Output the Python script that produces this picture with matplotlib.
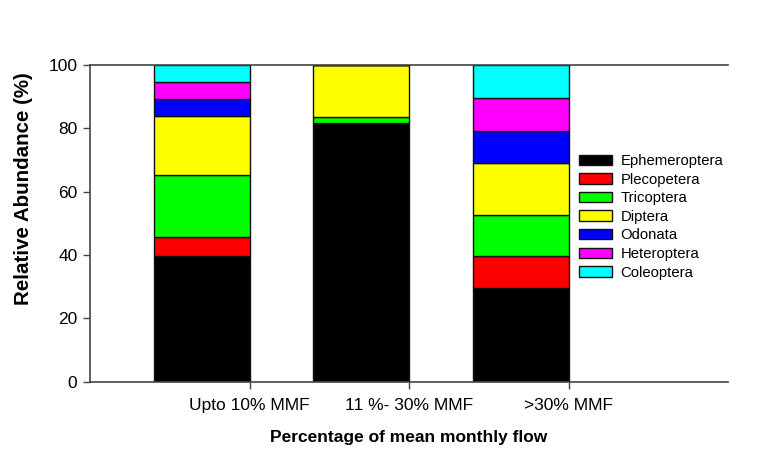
import matplotlib
matplotlib.use("Agg")
import matplotlib.pyplot as plt
import numpy as np

plt.rcParams['font.family'] = ['Liberation Sans', 'DejaVu Sans']

groups = ["Upto 10% MMF", "11 %- 30% MMF", ">30% MMF"]
taxa = ["Ephemeroptera", "Plecopetera", "Tricoptera", "Diptera",
        "Odonata", "Heteroptera", "Coleoptera"]
colors = ["#000000", "#ff0000", "#00ff00", "#ffff00",
          "#0000ff", "#ff00ff", "#00ffff"]

# relative abundance (%) per group
ephemeroptera = [39.6, 81.6, 29.4]
plecopetera = [6.2, 0.0, 10.3]
tricoptera = [19.3, 2.0, 12.8]
diptera = [18.7, 16.4, 16.4]
odonata = [5.3, 0.0, 10.1]
heteroptera = [5.4, 0.0, 10.6]
coleoptera = [5.5, 0.0, 10.4]

series = [ephemeroptera, plecopetera, tricoptera, diptera,
          odonata, heteroptera, coleoptera]

fig = plt.figure(figsize=(7.67, 4.5), dpi=100)
ax = fig.add_axes([90/767, 1 - 381.5/450, 638/767, 316.5/450])

x = np.arange(1, len(groups) + 1)
bottom = np.zeros(len(groups))
handles = []
for name, vals, c in zip(taxa, series, colors):
    vals = np.array(vals)
    b = ax.bar(x, vals, width=-0.6, align='edge', bottom=bottom, color=c,
               edgecolor='#111111', linewidth=1.0, label=name)
    handles.append(b)
    bottom += vals

ax.set_xlim(0, 4)
ax.set_ylim(0, 100)
ax.set_xticks(x)
ax.set_xticklabels(groups, fontsize=12.5)
ax.set_yticks([0, 20, 40, 60, 80, 100])
ax.tick_params(axis='y', labelsize=12.5, length=5, width=1, color='#444444', pad=4)
ax.tick_params(axis='x', length=5, width=1, color='#444444', pad=7)

for s in ['left', 'top', 'bottom']:
    ax.spines[s].set_color('#444444')
    ax.spines[s].set_linewidth(1.2)
ax.spines['right'].set_visible(False)

ax.set_ylabel("Relative Abundance (%)", fontsize=14.8, fontweight='bold')
ax.yaxis.set_label_coords(-0.089, 0.608)
ax.set_xlabel("Percentage of mean monthly flow", fontsize=12.5, fontweight='bold', labelpad=12)

leg = ax.legend(handles=handles, labels=taxa, loc='upper left',
                bbox_to_anchor=(579/767, 1 - 154/450), bbox_transform=fig.transFigure,
                frameon=False, fontsize=10.7, handlelength=2.2, handleheight=0.7,
                handletextpad=0.6, labelspacing=0.31, borderpad=0, borderaxespad=0)

fig.savefig("out.png", dpi=100)
